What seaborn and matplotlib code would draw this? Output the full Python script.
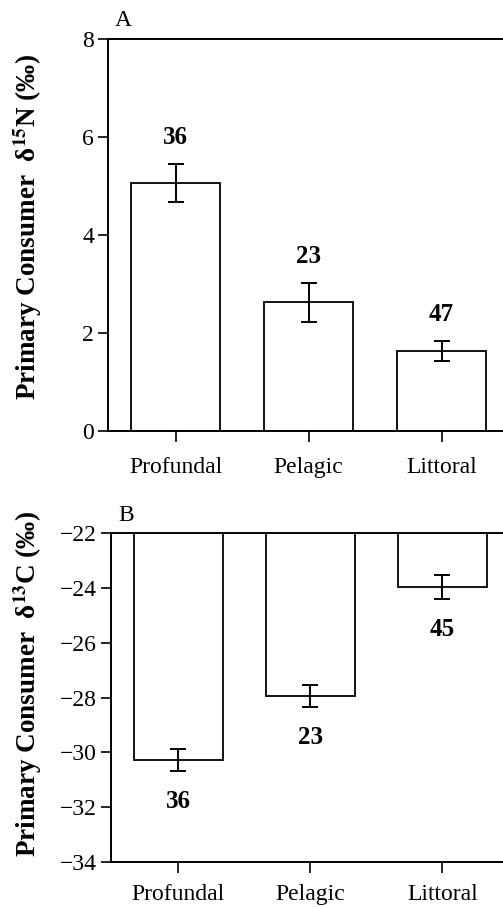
import numpy as np
import pandas as pd
import seaborn as sns
import matplotlib.pyplot as plt

# data
habitats = ['Profundal', 'Pelagic', 'Littoral']

n15_mean = [5.06, 2.63, 1.63]
n15_err = [0.39, 0.40, 0.21]
n15_n = [36, 23, 47]

c13_mean = [-30.28, -27.95, -23.97]
c13_err = [0.40, 0.40, 0.43]
c13_n = [36, 23, 45]

sns.set_style('ticks')
plt.rcParams['font.family'] = ['Liberation Serif', 'DejaVu Serif']
plt.rcParams['mathtext.fontset'] = 'stix'
plt.rcParams['text.color'] = 'black'
plt.rcParams['axes.labelcolor'] = 'black'

fig = plt.figure(figsize=(5.03, 9.07), dpi=100)
ax_a = fig.add_axes([0.2147, 0.5248, 0.79, 0.4322])
ax_b = fig.add_axes([0.2207, 0.0496, 0.785, 0.3627])


def draw_panel(ax, means, errs, counts, ylim, yticks, ylabel, letter, up,
               label_xy, xpad):
    df = pd.DataFrame({'habitat': habitats, 'value': means})
    sns.barplot(data=df, x='habitat', y='value', ax=ax, color='white',
                edgecolor='black', linewidth=1.3, width=0.67, errorbar=None,
                saturation=1)
    xs = np.arange(len(habitats))
    ax.errorbar(xs, means, yerr=errs, fmt='none', ecolor='black',
                elinewidth=1.4, capsize=5.5, capthick=1.4)
    for x, m, e, n in zip(xs, means, errs, counts):
        if up:
            ax.annotate(str(n), (x, m + e), xytext=(0, 19),
                        textcoords='offset points', ha='center', va='center',
                        fontsize=18, fontweight='bold')
        else:
            ax.annotate(str(n), (x, m - e), xytext=(0, -22),
                        textcoords='offset points', ha='center', va='center',
                        fontsize=18, fontweight='bold')
    ax.set_ylim(*ylim)
    ax.set_yticks(yticks)
    ax.set_xlim(-0.51, 2.48)
    ax.set_xlabel('')
    ax.set_ylabel(ylabel, fontsize=19.5, fontweight='bold')
    ax.yaxis.set_label_coords(*label_xy)
    ax.spines['right'].set_visible(False)
    for s in ['left', 'top', 'bottom']:
        ax.spines[s].set_linewidth(1.4)
        ax.spines[s].set_color('black')
    ax.tick_params(axis='y', length=7, width=1.2, labelsize=17, pad=3,
                   colors='black')
    ax.tick_params(axis='x', length=8, width=1.2, labelsize=17, pad=xpad,
                   colors='black')
    ax.text(0.018, 1.02, letter, transform=ax.transAxes, fontsize=17,
            ha='left', va='bottom')


draw_panel(ax_a, n15_mean, n15_err, n15_n, (0, 8), [0, 2, 4, 6, 8],
           'Primary Consumer  δ$^{\\mathbf{15}}$N (‰)', 'A', True,
           (-0.16, 0.52), 11)
draw_panel(ax_b, c13_mean, c13_err, c13_n, (-34, -22),
           [-34, -32, -30, -28, -26, -24, -22],
           'Primary Consumer  δ$^{\\mathbf{13}}$C (‰)', 'B', False,
           (-0.17, 0.54), 8)
ax_b.set_yticklabels(['\u221234', '\u221232', '\u221230', '\u221228',
                      '\u221226', '\u221224', '\u221222'])

fig.savefig('out.png', dpi=100)
